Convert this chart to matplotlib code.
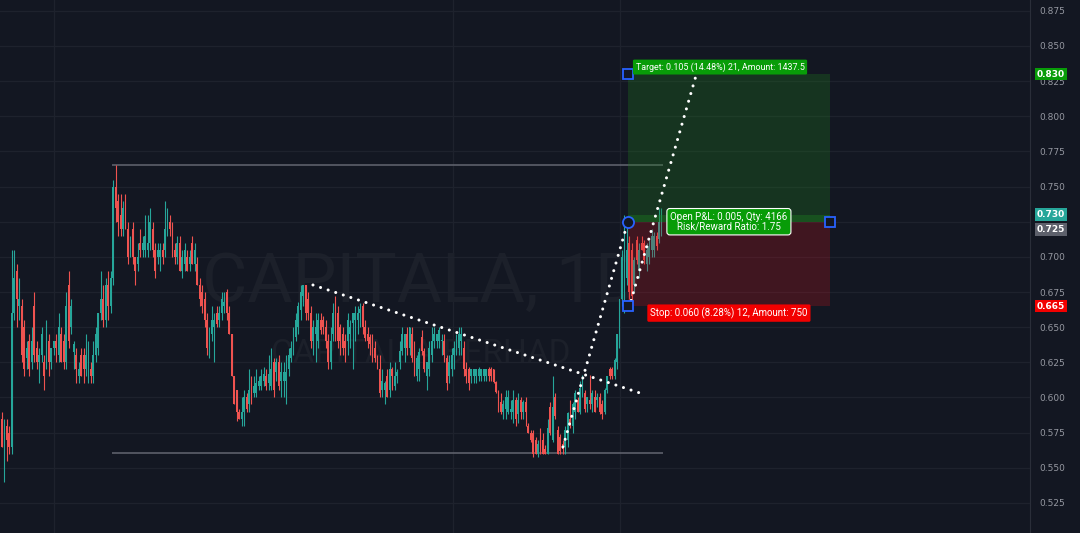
import numpy as np
import matplotlib.pyplot as plt
import matplotlib.transforms as mtransforms
from matplotlib.patches import Rectangle

# Daily OHLC, in thousandths (tick size 0.005)
opens = [585, 550, 580, 575, 565, 660, 690, 665, 665, 650,
         628, 640, 625, 665, 635, 625, 630, 625, 625, 640,
         625, 635, 640, 630, 645, 640, 625, 680, 650, 632,
         630, 615, 630, 630, 620, 615, 620, 615, 630, 635,
         660, 670, 655, 680, 665, 685, 750, 740, 730, 720,
         735, 720, 705, 720, 700, 695, 710, 705, 705, 705,
         710, 720, 705, 700, 700, 705, 705, 720, 725, 720,
         705, 700, 710, 690, 695, 700, 695, 710, 695, 695,
         680, 675, 670, 655, 633, 645, 650, 660, 655, 660,
         665, 675, 660, 645, 615, 605, 590, 585, 590, 600,
         595, 610, 603, 603, 608, 608, 612, 615, 610, 608,
         625, 618, 625, 612, 612, 612, 620, 628, 635, 643,
         650, 662, 672, 680, 670, 660, 640, 645, 640, 655,
         655, 650, 640, 625, 645, 665, 660, 650, 645, 640,
         640, 645, 653, 655, 655, 660, 665, 650, 645, 643,
         640, 635, 628, 620, 605, 605, 615, 605, 620, 608,
         615, 625, 633, 635, 645, 635, 645, 635, 615, 620,
         643, 633, 615, 620, 630, 640, 640, 640, 640, 640,
         628, 615, 620, 630, 635, 635, 640, 635, 620, 620,
         615, 615, 615, 615, 615, 615, 615, 620, 620, 620,
         611, 604, 597, 590, 592, 590, 590, 590, 598, 588,
         598, 590, 597, 580, 575, 575, 570, 560, 575, 570,
         563, 560, 593, 570, 600, 577, 572, 567, 565, 570,
         585, 580, 590, 598, 590, 603, 603, 595, 598, 595,
         600, 598, 600, 595, 590, 605, 620, 620, 615, 625,
         640, 670, 675, 685, 710, 705, 680, 712, 690, 710,
         710, 695, 700, 705, 705, 715, 713, 720]
highs = [590, 585, 585, 580, 705, 705, 695, 685, 670, 655,
         640, 645, 650, 675, 640, 635, 650, 630, 655, 645,
         635, 640, 645, 660, 650, 645, 675, 690, 670, 640,
         635, 625, 635, 635, 645, 640, 625, 640, 650, 660,
         690, 680, 685, 690, 690, 755, 765, 745, 745, 740,
         745, 725, 715, 725, 700, 710, 720, 715, 730, 730,
         735, 725, 710, 710, 710, 710, 740, 735, 730, 725,
         710, 715, 715, 705, 710, 705, 705, 715, 710, 700,
         685, 680, 675, 660, 650, 665, 660, 665, 665, 675,
         675, 677, 665, 645, 615, 605, 592, 600, 605, 603,
         620, 615, 615, 620, 615, 620, 622, 620, 630, 635,
         628, 628, 630, 625, 625, 630, 635, 640, 650, 660,
         668, 680, 680, 680, 675, 665, 655, 660, 660, 660,
         658, 655, 645, 650, 667, 672, 665, 652, 650, 645,
         660, 655, 660, 665, 665, 667, 667, 655, 650, 645,
         645, 640, 630, 630, 620, 612, 620, 625, 622, 625,
         620, 640, 650, 645, 650, 650, 650, 640, 630, 635,
         648, 635, 625, 640, 650, 650, 645, 650, 645, 645,
         630, 630, 635, 640, 645, 650, 650, 640, 625, 622,
         620, 620, 620, 622, 620, 620, 620, 622, 622, 620,
         612, 605, 603, 598, 605, 605, 598, 605, 600, 603,
         600, 598, 600, 582, 577, 577, 572, 570, 578, 575,
         566, 585, 597, 615, 603, 580, 574, 570, 580, 590,
         598, 597, 605, 600, 612, 616, 605, 600, 616, 605,
         605, 603, 603, 598, 607, 615, 622, 622, 628, 645,
         670, 705, 730, 725, 715, 710, 700, 715, 710, 715,
         712, 710, 712, 720, 718, 718, 735, 735]
lows = [565, 540, 555, 560, 560, 655, 650, 655, 625, 615,
        620, 615, 620, 625, 620, 610, 625, 605, 620, 615,
        620, 630, 625, 625, 625, 620, 620, 635, 645, 620,
        610, 610, 615, 610, 615, 610, 610, 610, 625, 630,
        655, 650, 650, 655, 660, 680, 725, 715, 715, 715,
        720, 695, 700, 695, 680, 690, 700, 700, 700, 700,
        705, 700, 685, 695, 690, 695, 700, 715, 715, 700,
        695, 695, 690, 685, 690, 690, 690, 695, 690, 680,
        665, 660, 650, 630, 628, 640, 625, 650, 650, 655,
        660, 655, 645, 615, 595, 583, 585, 580, 580, 590,
        590, 595, 600, 600, 605, 605, 608, 605, 605, 605,
        600, 612, 605, 600, 600, 595, 615, 625, 630, 640,
        645, 655, 665, 655, 655, 635, 630, 625, 635, 645,
        645, 635, 620, 620, 640, 640, 635, 630, 630, 625,
        630, 635, 620, 640, 645, 650, 645, 640, 635, 630,
        625, 625, 620, 600, 600, 595, 600, 600, 605, 605,
        610, 620, 630, 625, 630, 630, 625, 615, 612, 612,
        630, 618, 605, 615, 625, 635, 635, 635, 630, 625,
        605, 610, 615, 620, 630, 630, 630, 615, 610, 605,
        610, 610, 610, 612, 612, 612, 612, 612, 612, 610,
        603, 590, 588, 585, 585, 588, 585, 582, 580, 582,
        585, 585, 580, 575, 568, 558, 560, 558, 560, 560,
        560, 560, 573, 568, 585, 560, 560, 560, 560, 565,
        578, 575, 585, 590, 588, 600, 590, 590, 592, 590,
        590, 593, 588, 585, 588, 603, 613, 613, 613, 620,
        635, 665, 660, 680, 670, 668, 675, 695, 685, 705,
        695, 690, 695, 700, 700, 705, 710, 715]
closes = [565, 580, 570, 565, 660, 685, 670, 670, 630, 620,
          635, 620, 640, 630, 625, 630, 645, 615, 640, 625,
          635, 640, 635, 650, 625, 625, 665, 640, 665, 638,
          620, 620, 615, 620, 630, 630, 615, 630, 645, 660,
          670, 655, 680, 665, 685, 750, 735, 725, 720, 735,
          725, 700, 710, 700, 690, 700, 705, 710, 715, 710,
          725, 705, 690, 705, 705, 700, 720, 725, 720, 705,
          700, 710, 690, 700, 705, 690, 700, 695, 705, 680,
          670, 665, 655, 635, 645, 655, 655, 652, 660, 670,
          668, 660, 645, 615, 595, 590, 585, 590, 600, 592,
          605, 603, 608, 610, 612, 615, 617, 608, 617, 620,
          605, 625, 608, 618, 618, 618, 630, 635, 645, 655,
          665, 675, 680, 660, 660, 640, 650, 650, 655, 648,
          650, 640, 625, 640, 660, 657, 640, 640, 635, 635,
          655, 650, 660, 660, 660, 663, 650, 642, 640, 638,
          630, 628, 625, 603, 612, 610, 600, 620, 615, 615,
          618, 633, 645, 645, 635, 650, 628, 620, 628, 632,
          633, 620, 625, 635, 640, 645, 645, 648, 640, 630,
          610, 625, 630, 635, 640, 645, 645, 620, 615, 610,
          620, 620, 620, 620, 620, 620, 620, 615, 615, 611,
          604, 592, 590, 595, 600, 600, 592, 598, 585, 598,
          590, 597, 590, 575, 570, 560, 560, 567, 560, 560,
          560, 578, 575, 593, 587, 560, 562, 563, 577, 589,
          580, 595, 603, 590, 607, 612, 592, 600, 595, 603,
          590, 600, 590, 588, 605, 615, 615, 615, 627, 645,
          670, 700, 725, 705, 675, 672, 698, 698, 705, 705,
          698, 705, 708, 715, 715, 708, 725, 730]

# drawings (x in bar index, y in price)
range_top, range_bottom = 0.765, 0.5605
range_x = [44.5, 267.6]
trend_lines = [([125.9, 260.3], [0.680, 0.602]),
               ([227.1, 253.4], [0.5648, 0.725]),
               ([254.7, 281.4], [0.669, 0.8315])]
pos_left, pos_right = 253.4, 335.2
entry, target, stop, last_price = 0.725, 0.830, 0.665, 0.730
price_ticks = [0.525, 0.550, 0.575, 0.600, 0.625, 0.650, 0.675, 0.700,
               0.725, 0.750, 0.775, 0.800, 0.825, 0.850, 0.875]
vgrid = [21.0, 182.6, 250.2]

o = np.array(opens) / 1000
h = np.array(highs) / 1000
l = np.array(lows) / 1000
c = np.array(closes) / 1000

bg = '#131722'
up, down = '#26a69a', '#ef5350'

fig = plt.figure(figsize=(10.8, 5.33), dpi=100, facecolor=bg)
ax = fig.add_axes([0, 0, 1030 / 1080, 1])
ax.set_facecolor(bg)
ax.set_xlim(-0.81, 416.2)
ax.set_ylim(0.5036, 0.8827)

# grid; the 0.725 tick label sits under the price badges
ax.set_yticks(price_ticks)
ax.set_yticklabels(['' if t == entry else f'{t:.3f}' for t in price_ticks])
ax.grid(axis='y', color='#1e222d', lw=0.9, zorder=0)
for xg in vgrid:
    ax.axvline(xg, color='#1e222d', lw=0.9, zorder=0)
ax.set_xticks([])
ax.yaxis.tick_right()
ax.tick_params(axis='y', length=0, pad=7, labelcolor='#9598a1', labelsize=6.5)
for s in ['top', 'left', 'bottom']:
    ax.spines[s].set_visible(False)
ax.spines['right'].set_color('#2a2e39')

# watermark
wm_font = ['Roboto', 'DejaVu Sans']
ax.text(169.6, 0.668, 'CAPITALA, 1D', ha='center', va='baseline', fontsize=50,
        color='#1c202a', family=wm_font, zorder=1)
ax.text(169.6, 0.6245, 'CAPITAL A BERHAD', ha='center', va='baseline', fontsize=24,
        color='#1c202a', family=wm_font, zorder=1)

# range lines
ax.hlines([range_top, range_bottom], range_x[0], range_x[1], color='#5d606b', lw=1.2, zorder=2)

# candles
idx = np.arange(len(c))
cols = np.where(c >= o, up, down)
ax.vlines(idx, l, h, colors=cols, lw=0.8, zorder=3)
body = np.maximum(np.abs(c - o), 0.0008)
ax.bar(idx, body, bottom=np.minimum(o, c), width=0.75, color=cols, lw=0, zorder=3)

# long position tool
w = pos_right - pos_left
ax.add_patch(Rectangle((pos_left, entry), w, target - entry, facecolor='#1e7a1e', alpha=0.3, lw=0, zorder=4))
ax.add_patch(Rectangle((pos_left, stop), w, entry - stop, facecolor='#c8141e', alpha=0.25, lw=0, zorder=4))
ax.add_patch(Rectangle((pos_left, entry), w, last_price - entry, facecolor='#1e8a1e', alpha=0.35, lw=0, zorder=4))

# trend lines
for xs, ys in trend_lines:
    ax.plot(xs, ys, color='white', lw=2.2, linestyle=(0, (0.01, 2.6)),
            dash_capstyle='round', zorder=5)

# handles
ax.plot([pos_left, pos_left, pos_right], [target, stop, entry], 's', ms=7,
        mfc=bg, mec='#2962ff', mew=1.3, zorder=6)
ax.plot([pos_left], [entry], 'o', ms=8, mfc=bg, mec='#2962ff', mew=1.3, zorder=6)

lab_font = ['Roboto', 'DejaVu Sans']
ax.text(290.7, 0.835, 'Target: 0.105 (14.48%) 21, Amount: 1437.5', ha='center', va='center',
        fontsize=6.4, color='white', family=lab_font, zorder=7,
        bbox=dict(boxstyle='round,pad=0.3,rounding_size=0.15', fc='#089c08', ec='none'))
ax.text(294.3, 0.725, 'Open P&L: 0.005, Qty: 4166\nRisk/Reward Ratio: 1.75', ha='center', va='center',
        fontsize=7, color='white', family=lab_font, linespacing=0.95, zorder=7,
        bbox=dict(boxstyle='round,pad=0.35,rounding_size=0.3', fc='#089c08', ec='white', lw=0.8))
ax.text(294.3, 0.660, 'Stop: 0.060 (8.28%) 12, Amount: 750', ha='center', va='center',
        fontsize=7, color='white', family=lab_font, zorder=7,
        bbox=dict(boxstyle='round,pad=0.3,rounding_size=0.15', fc='#f20000', ec='none'))

# price axis badges (entry badge pushed down below the last-price badge)
tr = mtransforms.blended_transform_factory(ax.transAxes, ax.transData)
badges = [(target, target, '#089c08'), (last_price, last_price, up),
          (entry, 0.7195, '#5d606b'), (stop, stop, '#f20000')]
for val, ypos, colr in badges:
    ax.text(1.0205, ypos, f'{val:.3f}', transform=tr, ha='center', va='center', fontsize=6.5,
            color='white', fontweight='bold', clip_on=False, zorder=8,
            bbox=dict(boxstyle='square,pad=0.2', fc=colr, ec='none'))

fig.savefig('out.png', dpi=100, facecolor=bg)
